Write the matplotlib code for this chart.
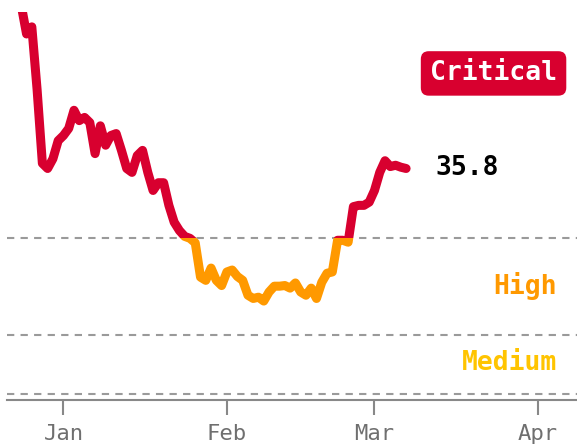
import pandas as pd
import matplotlib.pyplot as plt
import matplotlib.dates as mdates
from matplotlib.patches import Rectangle

# daily values
start_date = '2022-12-24'
values = [61.0, 56.6, 57.7, 48.0, 36.6, 35.8, 37.3, 40.1,
          40.9, 42.0, 44.8, 43.2, 43.7, 42.9, 38.1, 42.4, 39.4, 40.9,
          41.2, 38.6, 35.8, 35.2, 37.8, 38.6, 35.2, 32.4, 33.6, 33.6,
          30.1, 27.5, 26.2, 25.3, 25.0, 24.3, 19.0, 18.5, 20.4, 18.5,
          17.7, 19.8, 20.1, 19.1, 18.5, 16.2, 15.7, 15.9, 15.3, 16.7,
          17.6, 17.6, 17.7, 17.3, 18.1, 16.7, 16.2, 17.3, 15.7, 18.2,
          19.6, 19.8, 24.7, 24.7, 24.4, 29.9, 30.1, 30.1, 30.6, 32.4,
          35.2, 37.0, 36.1, 36.3, 36.0, 35.8]
dates = pd.date_range(start_date, periods=len(values), freq='D')

thresholds = [25, 10, 1]
level_names = ['Critical', 'High', 'Medium']
level_colors = ['#d8002f', '#ff9900', '#ffc400']
tick_dates = ['2023-01-01', '2023-02-01', '2023-03-01', '2023-04-01']
tick_labels = ['Jan', 'Feb', 'Mar', 'Apr']

plt.rcParams['font.family'] = 'DejaVu Sans Mono'

fig = plt.figure(figsize=(5.77, 4.47), dpi=100)
ax = fig.add_axes([7 / 577, 47 / 447, 570 / 577, 388 / 447])
ax.set_xlim(pd.Timestamp('2022-12-21 07:00'), pd.Timestamp('2023-04-08 10:00'))
ax.set_ylim(0, 60)

# threshold lines
for t in thresholds:
    ax.axhline(t, color='#9a9a9a', lw=1.5, dashes=(3.5, 3), zorder=1)

# line coloured by level: clip each copy to its band
bands = [(thresholds[0], 60), (thresholds[1], thresholds[0])]
for (lo, hi), c in zip(bands, level_colors):
    line, = ax.plot(dates, values, color=c, lw=6.5, solid_joinstyle='round',
                    solid_capstyle='round', zorder=3)
    rect = Rectangle((mdates.date2num(dates[0]) - 50, lo), 500, hi - lo,
                     transform=ax.transData, visible=False)
    ax.add_patch(rect)
    line.set_clip_path(rect)

# level labels
ax.text(0.965, 50.5, level_names[0], transform=ax.get_yaxis_transform(),
        ha='right', va='center', color='white', fontsize=19, fontweight='bold',
        bbox=dict(boxstyle='round,pad=0.35,rounding_size=0.3', fc=level_colors[0], ec='none'))
ax.text(0.965, 17.7, level_names[1], transform=ax.get_yaxis_transform(),
        ha='right', va='center', color=level_colors[1], fontsize=19, fontweight='bold')
ax.text(0.965, 5.7, level_names[2], transform=ax.get_yaxis_transform(),
        ha='right', va='center', color=level_colors[2], fontsize=19, fontweight='bold')

# last value
ax.annotate(f'{values[-1]:.1f}', xy=(dates[-1], values[-1]), xytext=(21, 0),
            textcoords='offset points', ha='left', va='center',
            fontsize=19, fontweight='bold', color='black')

for s in ['top', 'left', 'right']:
    ax.spines[s].set_visible(False)
ax.spines['bottom'].set_color('#888888')
ax.spines['bottom'].set_linewidth(1.5)
ax.set_yticks([])
ax.set_xticks(pd.to_datetime(tick_dates))
ax.set_xticklabels(tick_labels)
ax.tick_params(axis='x', length=11, width=1.5, color='#888888',
               labelcolor='#6f6f6f', labelsize=16, pad=6)

plt.savefig('out.png', dpi=100)
